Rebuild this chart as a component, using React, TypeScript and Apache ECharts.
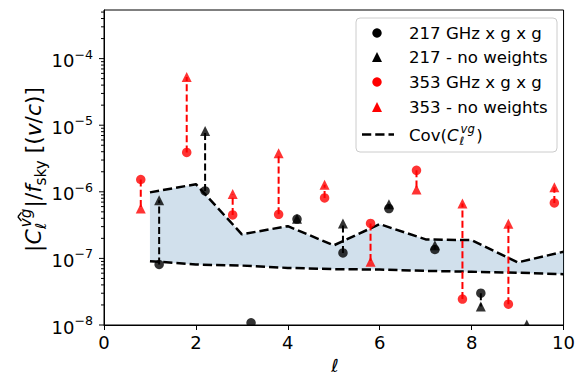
import React, { useEffect, useRef } from 'react';
import * as echarts from 'echarts';

const FONT = 'DejaVu Sans';

// Covariance band (upper / lower), at integer multipoles
const covEll = [1, 2, 3, 4, 5, 6, 7, 8, 9, 10];
const covUpper = [9.8e-7, 1.3e-6, 2.3e-7, 3.05e-7, 1.57e-7, 3.27e-7, 1.93e-7, 1.88e-7, 8.7e-8, 1.26e-7];
const covLower = [9.1e-8, 8.1e-8, 7.8e-8, 7.2e-8, 6.9e-8, 6.8e-8, 6.5e-8, 6.3e-8, 6.1e-8, 5.8e-8];

// 217 GHz (offset +0.2)
const ell217 = [1.2, 2.2, 3.2, 4.2, 5.2, 6.2, 7.2, 8.2, 9.2];
const c217 = [8.1e-8, 1.03e-6, 1.08e-8, 3.9e-7, 1.21e-7, 5.6e-7, 1.36e-7, 3.0e-8, null];
const c217nw = [7.5e-7, 8.2e-6, null, 3.95e-7, 3.35e-7, 6.5e-7, 1.58e-7, 1.9e-8, 1.02e-8];

// 353 GHz (offset -0.2)
const ell353 = [0.8, 1.8, 2.8, 3.8, 4.8, 5.8, 6.8, 7.8, 8.8, 9.8];
const c353 = [1.53e-6, 3.9e-6, 4.5e-7, 4.6e-7, 8.1e-7, 3.35e-7, 2.1e-6, 2.45e-8, 2.05e-8, 6.8e-7];
const c353nw = [5.6e-7, 5.3e-5, 9.3e-7, 3.8e-6, 1.28e-6, 8.9e-8, 1.08e-6, 6.7e-7, 3.3e-7, 1.17e-6];

const xTicks = [0, 2, 4, 6, 8, 10];
const yMajor = [1e-8, 1e-7, 1e-6, 1e-5, 1e-4];
const yMinorMult = [2, 3, 4, 5, 6, 7, 8, 9];
const Y_MIN = 1e-8;
const Y_MAX = Math.pow(10, -3.27);

const legendLabels = ['217 GHz x g x g', '217 - no weights', '353 GHz x g x g', '353 - no weights'];

const BAND = 'rgba(70,130,180,0.25)';
const RED = '#ff0000';

let measureCtx: CanvasRenderingContext2D | null = null;
function mw(t: string, size: number, italic: boolean): number {
  if (!measureCtx) measureCtx = document.createElement('canvas').getContext('2d');
  measureCtx!.font = `${italic ? 'italic ' : ''}${size}px "${FONT}"`;
  return measureCtx!.measureText(t).width;
}

type Piece = { t: string; x: number; b: number; s: number; it: boolean };

function textEl(p: Piece, ox: number, oy: number, z: number) {
  return {
    type: 'text',
    z,
    silent: true,
    style: {
      text: p.t,
      x: ox + p.x,
      y: oy + p.b - 0.346 * p.s,
      fill: '#000',
      fontSize: p.s,
      fontFamily: FONT,
      fontStyle: p.it ? 'italic' : 'normal',
      align: 'left',
      verticalAlign: 'middle',
    },
  };
}

function layoutYLabel(F: number) {
  const P: Piece[] = [];
  let x = 0;
  const put = (t: string, s: number, it: boolean, b = 0) => {
    P.push({ t, x, b, s, it });
    return mw(t, s, it);
  };
  x += put('|', F, false);
  x += put('C', F, true);
  const xs = x + 0.02 * F;
  const ws = 0.7 * F;
  const wl = mw('\u2113', ws, true);
  const wv = mw('vg', ws, true);
  P.push({ t: '\u2113', x: xs, b: 0.22 * F, s: ws, it: true });
  P.push({ t: 'vg', x: xs + 0.08 * F, b: -0.45 * F, s: ws, it: true });
  const hatC = xs + 0.08 * F + wv / 2 + 0.05 * F;
  x = xs + Math.max(wl, wv + 0.08 * F) + 0.05 * F;
  x += put('|/', F, false);
  x += put('f', F, true);
  x -= 0.02 * F;
  x += put('sky', ws, false, 0.22 * F);
  x += put(' [(', F, false);
  x += put('v', F, true);
  x += put('/', F, false);
  x += put('c', F, true);
  x += put(')]', F, false);
  return { P, L: x, hatC };
}

export default function App() {
  const ref = useRef<HTMLDivElement>(null);
  useEffect(() => {
    if (!ref.current) return;
    const chart = echarts.init(ref.current, undefined, { renderer: 'svg' });

    // Y-axis title, laid out along its own baseline, then rotated
    const L18 = layoutYLabel(18).L;
    const F = (18 * 165) / L18;
    const yl = layoutYLabel(F);
    const gx = 41.5;
    const gy = 169.5 + yl.L / 2;
    const yLabelChildren: any[] = yl.P.map((p) => textEl(p, 0, 0, 20));
    // local (lx, ly) -> screen (gx + ly, gy - lx) for a 90deg counter-clockwise rotation
    const toScreen = (lx: number, ly: number) => [gx + ly, gy - lx];
    const hA = toScreen(yl.hatC - 0.2 * F, -0.92 * F);
    const hB = toScreen(yl.hatC, -1.08 * F);
    const hC = toScreen(yl.hatC + 0.2 * F, -0.92 * F);
    const hatEls = [
      {
        type: 'line',
        z: 22,
        silent: true,
        shape: { x1: hA[0], y1: hA[1], x2: hB[0], y2: hB[1] },
        style: { stroke: '#000', lineWidth: 1.4 },
      },
      {
        type: 'line',
        z: 22,
        silent: true,
        shape: { x1: hB[0], y1: hB[1], x2: hC[0], y2: hC[1] },
        style: { stroke: '#000', lineWidth: 1.4 },
      },
    ];

    // legend
    const LF = 16.6;
    const rows = [33, 57, 82, 107];
    const mx = 377;
    const legendEls: any[] = [
      {
        type: 'rect',
        z: 20,
        silent: true,
        shape: { x: 356, y: 18, width: 201, height: 134, r: 4 },
        style: { fill: 'rgba(255,255,255,0.8)', stroke: '#cccccc', lineWidth: 1 },
      },
    ];
    const colors = ['#000', '#000', RED, RED];
    rows.forEach((ry, i) => {
      const isTri = i % 2 === 1;
      if (isTri) {
        legendEls.push({
          type: 'polygon',
          z: 21,
          silent: true,
          shape: { points: [[mx, ry - 5], [mx - 5, ry + 5], [mx + 5, ry + 5]] },
          style: { fill: colors[i] },
        });
      } else {
        legendEls.push({
          type: 'circle',
          z: 21,
          silent: true,
          shape: { cx: mx, cy: ry, r: 4.7 },
          style: { fill: colors[i] },
        });
      }
      legendEls.push({
        type: 'text',
        z: 21,
        silent: true,
        style: {
          text: legendLabels[i],
          x: 409,
          y: ry,
          fill: '#000',
          fontSize: LF,
          fontFamily: FONT,
          align: 'left',
          verticalAlign: 'middle',
        },
      });
    });
    legendEls.push({
      type: 'line',
      z: 21,
      silent: true,
      shape: { x1: 362, y1: 134.5, x2: 394, y2: 134.5 },
      style: { stroke: '#000', lineWidth: 2.5, lineDash: [9.25, 4] },
    });
    {
      const P: Piece[] = [];
      let x = 0;
      const put = (t: string, s: number, it: boolean, b = 0) => {
        P.push({ t, x, b, s, it });
        return mw(t, s, it);
      };
      x += put('Cov(', LF, false);
      x += put('C', LF, true);
      const xs = x + 0.06 * LF;
      const ws = 0.7 * LF;
      const wl = mw('\u2113', ws, true);
      const wv = mw('vg', ws, true);
      P.push({ t: '\u2113', x: xs, b: 0.25 * LF, s: ws, it: true });
      P.push({ t: 'vg', x: xs + 0.06 * LF, b: -0.5 * LF, s: ws, it: true });
      x = xs + Math.max(wl, wv + 0.06 * LF) + 0.08 * LF;
      put(')', LF, false);
      P.forEach((p) => legendEls.push(textEl(p, 409, 141, 21)));
    }

    const yTickData: number[][] = [];
    yMajor.forEach((v) => yTickData.push([0, v, 5]));
    for (let e = -8; e <= -4; e++) {
      yMinorMult.forEach((m) => {
        const v = m * Math.pow(10, e);
        if (v < Y_MAX) yTickData.push([0, v, 3]);
      });
    }

    const pairs = (xs: number[], a: (number | null)[], b: (number | null)[]) =>
      xs
        .map((x, i) => (a[i] != null && b[i] != null ? [x, a[i] as number, b[i] as number] : null))
        .filter((d) => d != null) as number[][];
    const pts = (xs: number[], a: (number | null)[]) =>
      xs.map((x, i) => (a[i] != null ? [x, a[i] as number] : null)).filter((d) => d != null) as number[][];

    const arrowSeries = (name: string, data: number[][], color: string) => ({
      type: 'custom',
      name,
      z: 3,
      silent: true,
      data,
      renderItem: (params: any, api: any) => {
        const a = api.coord([api.value(0), api.value(1)]);
        const b = api.coord([api.value(0), api.value(2)]);
        return {
          type: 'line',
          shape: { x1: a[0], y1: a[1], x2: b[0], y2: b[1] },
          style: { stroke: color, lineWidth: 2, lineDash: [7, 3.2], fill: 'none' },
        };
      },
    });

    const option: any = {
      animation: false,
      grid: {
        left: 104,
        right: 13,
        top: 10,
        bottom: 50,
        show: true,
        borderColor: '#000',
        borderWidth: 1,
        backgroundColor: 'transparent',
      },
      xAxis: {
        type: 'value',
        min: xTicks[0],
        max: xTicks[xTicks.length - 1],
        interval: 2,
        z: 10,
        axisLine: { show: true, onZero: false, lineStyle: { color: '#000', width: 1 } },
        axisTick: { show: true, inside: false, length: 5, lineStyle: { color: '#000', width: 1 } },
        axisLabel: { fontSize: 18, color: '#000', fontFamily: FONT, margin: 8 },
        splitLine: { show: false },
      },
      yAxis: {
        type: 'log',
        logBase: 10,
        min: Y_MIN,
        max: Y_MAX,
        z: 10,
        axisLine: { show: true, lineStyle: { color: '#000', width: 1 } },
        axisTick: { show: false },
        splitLine: { show: false },
        axisLabel: {
          margin: 11,
          showMinLabel: true,
          formatter: (v: number) => {
            const lg = Math.log10(v);
            const e = Math.round(lg);
            if (Math.abs(lg - e) > 1e-6) return '';
            return `{b|10}{s|\u2212${Math.abs(e)}}`;
          },
          rich: {
            b: { fontSize: 18, fontFamily: FONT, color: '#000', lineHeight: 22, verticalAlign: 'bottom' },
            s: { fontSize: 12.6, fontFamily: FONT, color: '#000', lineHeight: 13, verticalAlign: 'top' },
          },
        },
      },
      graphic: {
        elements: [
          {
            type: 'rect',
            z: 5,
            silent: true,
            shape: { x: 98, y: 325.6, width: 476, height: 9 },
            style: { fill: '#fff' },
          },
          {
            type: 'group',
            x: gx,
            y: gy,
            rotation: Math.PI / 2,
            children: yLabelChildren,
          },
          ...hatEls,
          {
            type: 'text',
            z: 20,
            silent: true,
            style: {
              text: '\u2113',
              x: 335,
              y: 365,
              fill: '#000',
              fontSize: 18,
              fontFamily: FONT,
              fontStyle: 'italic',
              align: 'center',
              verticalAlign: 'middle',
            },
          },
          ...legendEls,
        ],
      },
      series: [
        {
          type: 'custom',
          name: 'band',
          z: 1,
          silent: true,
          data: [[covEll[0], covLower[0]]],
          renderItem: (params: any, api: any) => {
            const top = covEll.map((x, i) => api.coord([x, covUpper[i]]));
            const bot = covEll.map((x, i) => api.coord([x, covLower[i]])).reverse();
            return {
              type: 'polygon',
              shape: { points: top.concat(bot) },
              style: { fill: BAND, stroke: 'none' },
            };
          },
        },
        {
          type: 'line',
          name: 'Cov upper',
          z: 2,
          silent: true,
          symbol: 'none',
          data: covEll.map((x, i) => [x, covUpper[i]]),
          lineStyle: { color: '#000', width: 2.5, type: [9.25, 4] },
        },
        {
          type: 'line',
          name: 'Cov lower',
          z: 2,
          silent: true,
          symbol: 'none',
          data: covEll.map((x, i) => [x, covLower[i]]),
          lineStyle: { color: '#000', width: 2.5, type: [9.25, 4] },
        },
        arrowSeries('217 arrows', pairs(ell217, c217, c217nw), '#000'),
        arrowSeries('353 arrows', pairs(ell353, c353, c353nw), RED),
        {
          type: 'scatter',
          name: legendLabels[0],
          z: 4,
          symbol: 'circle',
          symbolSize: 9.5,
          itemStyle: { color: '#000' },
          data: pts(ell217, c217),
        },
        {
          type: 'scatter',
          name: legendLabels[1],
          z: 4,
          symbol: 'triangle',
          symbolSize: [10, 10],
          itemStyle: { color: '#000' },
          data: pts(ell217, c217nw),
        },
        {
          type: 'scatter',
          name: legendLabels[2],
          z: 4,
          symbol: 'circle',
          symbolSize: 9.5,
          itemStyle: { color: RED },
          data: pts(ell353, c353),
        },
        {
          type: 'scatter',
          name: legendLabels[3],
          z: 4,
          symbol: 'triangle',
          symbolSize: [10, 10],
          itemStyle: { color: RED },
          data: pts(ell353, c353nw),
        },
        {
          type: 'custom',
          name: 'y ticks',
          z: 10,
          silent: true,
          clip: false,
          data: yTickData,
          renderItem: (params: any, api: any) => {
            const p = api.coord([0, api.value(1)]);
            const len = api.value(2);
            return {
              type: 'line',
              shape: { x1: p[0] - len, y1: p[1], x2: p[0], y2: p[1] },
              style: { stroke: '#000', lineWidth: 1 },
            };
          },
        },
      ],
    };
    chart.setOption(option);
    return () => chart.dispose();
  }, []);
  return <div ref={ref} style={{ width: 578, height: 375, position: 'absolute', left: 0, top: 0 }} />;
}
